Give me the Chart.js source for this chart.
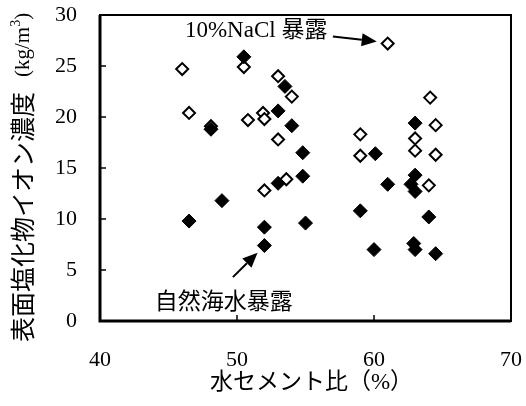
<!DOCTYPE html>
<html>
<head>
<meta charset="utf-8">
<script src="https://cdn.jsdelivr.net/npm/chart.js@4/dist/chart.umd.min.js"></script>
<style>
    html, body { margin: 0; padding: 0; background: #fff; }
    #wrap { width: 526px; height: 406px; }
</style>
</head>
<body>
<div id="wrap"><canvas id="wcChart"></canvas></div>
<script>
    // 10%NaCl 暴露 (白抜き)
    var naclWc = [46.0, 46.5, 48.1, 50.5, 50.8, 51.9, 52.0, 52.0, 53.0, 54.0, 53.0, 53.6, 59.0, 59.0, 61.0, 63.0, 63.0, 64.1, 64.5, 64.5, 64.0];
    var naclCl = [24.7, 20.4, 19.1, 24.9, 19.7, 20.4, 19.8, 12.8, 24.0, 22.0, 17.8, 13.9, 18.3, 16.2, 27.2, 17.9, 16.7, 21.9, 19.2, 16.3, 13.3];
    // 自然海水暴露 (塗りつぶし)
    var seaWc = [46.5, 48.1, 48.9, 50.5, 52.0, 52.0, 53.0, 53.5, 53.0, 54.0, 54.8, 54.8, 55.0, 59.0, 60.1, 60.0, 61.0, 63.0, 63.0, 62.7, 63.0, 62.9, 63.0, 64.0, 64.5];
    var seaCl = [9.8, 18.8, 11.8, 25.9, 9.2, 7.4, 20.6, 23.0, 13.5, 19.15, 16.5, 14.2, 9.6, 10.8, 16.4, 7.0, 13.4, 19.4, 14.3, 13.4, 12.7, 7.6, 7.0, 10.2, 6.6];

    var xTicks = [40, 50, 60, 70];
    var yTicks = [0, 5, 10, 15, 20, 25, 30];

    var xTitle = '水セメント比（%）';
    var yTitleJa = '表面塩化物イオン濃度';
    var yTitleUnit = ['(kg/m', '3', ')'];

    var serif = "'Liberation Serif', 'Times New Roman', 'Noto Sans CJK JP', serif";
    var cjk = "'Noto Sans CJK JP', sans-serif";

    function toPoints(xs, ys) {
        var pts = [];
        for (var i = 0; i < xs.length; i++) {
            pts.push({x: xs[i], y: ys[i]});
        }
        return pts;
    }

    function arrow(ctx, x1, y1, x2, y2) {
        var ang = Math.atan2(y2 - y1, x2 - x1);
        var len = 15, half = 6.5;
        var bx = x2 - len * Math.cos(ang), by = y2 - len * Math.sin(ang);
        ctx.beginPath();
        ctx.moveTo(x1, y1);
        ctx.lineTo(bx, by);
        ctx.lineWidth = 2;
        ctx.stroke();
        ctx.beginPath();
        ctx.moveTo(x2, y2);
        ctx.lineTo(bx + half * Math.sin(ang), by - half * Math.cos(ang));
        ctx.lineTo(bx - half * Math.sin(ang), by + half * Math.cos(ang));
        ctx.closePath();
        ctx.fill();
    }

    // 枠・内向き目盛・軸タイトル・注記
    var framePlugin = {
        id: 'frame',
        afterDraw: function (chart) {
            var ctx = chart.ctx;
            var a = chart.chartArea;
            var xs = chart.scales.x, ys = chart.scales.y;
            ctx.save();
            ctx.strokeStyle = '#000';
            ctx.fillStyle = '#000';
            ctx.lineWidth = 2;
            ctx.strokeRect(a.left, a.top, a.right - a.left, a.bottom - a.top);
            ctx.lineWidth = 3;
            ctx.beginPath();
            ctx.moveTo(a.left, a.top);
            ctx.lineTo(a.left, a.bottom);
            ctx.lineTo(a.right, a.bottom);
            ctx.stroke();

            ctx.lineWidth = 1.5;
            xTicks.forEach(function (v) {
                var px = xs.getPixelForValue(v);
                ctx.beginPath();
                ctx.moveTo(px, a.bottom);
                ctx.lineTo(px, a.bottom - 6);
                ctx.stroke();
            });
            yTicks.forEach(function (v) {
                var py = ys.getPixelForValue(v);
                ctx.beginPath();
                ctx.moveTo(a.left, py);
                ctx.lineTo(a.left + 6, py);
                ctx.stroke();
            });

            // x 軸タイトル
            ctx.textBaseline = 'middle';
            ctx.font = '23px ' + serif;
            ctx.textAlign = 'center';
            ctx.fillText(xTitle, (a.left + a.right) / 2 + 6, 383);

            // y 軸タイトル (回転)
            ctx.save();
            ctx.translate(22, a.bottom + 21);
            ctx.rotate(-Math.PI / 2);
            ctx.textAlign = 'left';
            ctx.font = '25px ' + cjk;
            ctx.fillText(yTitleJa, 0, 0);
            var cur = ctx.measureText(yTitleJa).width + 15;
            ctx.font = '21px ' + serif;
            ctx.fillText(yTitleUnit[0], cur, 1);
            cur += ctx.measureText(yTitleUnit[0]).width;
            ctx.font = '14px ' + serif;
            ctx.fillText(yTitleUnit[1], cur, -6);
            cur += ctx.measureText(yTitleUnit[1]).width;
            ctx.font = '21px ' + serif;
            ctx.fillText(yTitleUnit[2], cur, 1);
            ctx.restore();

            ctx.font = '23px ' + serif;
            ctx.textAlign = 'left';
            ctx.fillText('10%NaCl 暴露', xs.getPixelForValue(46.2), ys.getPixelForValue(28.4));
            ctx.fillText('自然海水暴露', xs.getPixelForValue(44.0), ys.getPixelForValue(1.75));
            arrow(ctx, xs.getPixelForValue(57.0), ys.getPixelForValue(27.9),
                  xs.getPixelForValue(60.2), ys.getPixelForValue(27.4));
            arrow(ctx, xs.getPixelForValue(49.7), ys.getPixelForValue(4.3),
                  xs.getPixelForValue(51.5), ys.getPixelForValue(6.7));
            ctx.restore();
        }
    };

    var ctx = document.getElementById('wcChart').getContext('2d');
    var wcChart = new Chart(ctx, {
        type: 'scatter',
        data: {
            datasets: [{
                label: '自然海水暴露',
                data: toPoints(seaWc, seaCl),
                pointStyle: 'rectRot',
                pointRadius: 7,
                backgroundColor: '#000',
                borderColor: '#000',
                borderWidth: 1
            }, {
                label: '10%NaCl 暴露',
                data: toPoints(naclWc, naclCl),
                pointStyle: 'rectRot',
                pointRadius: 6,
                backgroundColor: '#fff',
                borderColor: '#000',
                borderWidth: 2
            }]
        },
        options: {
            responsive: true,
            maintainAspectRatio: false,
            animation: false,
            layout: {
                padding: {top: 15, right: 15, left: 0, bottom: 0}
            },
            plugins: {
                legend: {display: false},
                tooltip: {enabled: false}
            },
            scales: {
                x: {
                    type: 'linear',
                    min: 40,
                    max: 70,
                    afterBuildTicks: function (scale) {
                        scale.ticks = xTicks.map(function (v) { return {value: v}; });
                    },
                    afterFit: function (scale) {
                        scale.height = 85;
                        scale.paddingLeft = 0;
                        scale.paddingRight = 0;
                    },
                    grid: {display: false, drawTicks: false},
                    border: {display: false},
                    ticks: {
                        color: '#000',
                        padding: 26,
                        font: {family: serif, size: 22}
                    }
                },
                y: {
                    min: 0,
                    max: 30,
                    afterBuildTicks: function (scale) {
                        scale.ticks = yTicks.map(function (v) { return {value: v}; });
                    },
                    afterFit: function (scale) {
                        scale.width = 100;
                        scale.paddingTop = 0;
                        scale.paddingBottom = 0;
                    },
                    grid: {display: false, drawTicks: false},
                    border: {display: false},
                    ticks: {
                        color: '#000',
                        padding: 23,
                        font: {family: serif, size: 22}
                    }
                }
            }
        },
        plugins: [framePlugin]
    });
</script>
</body>
</html>
